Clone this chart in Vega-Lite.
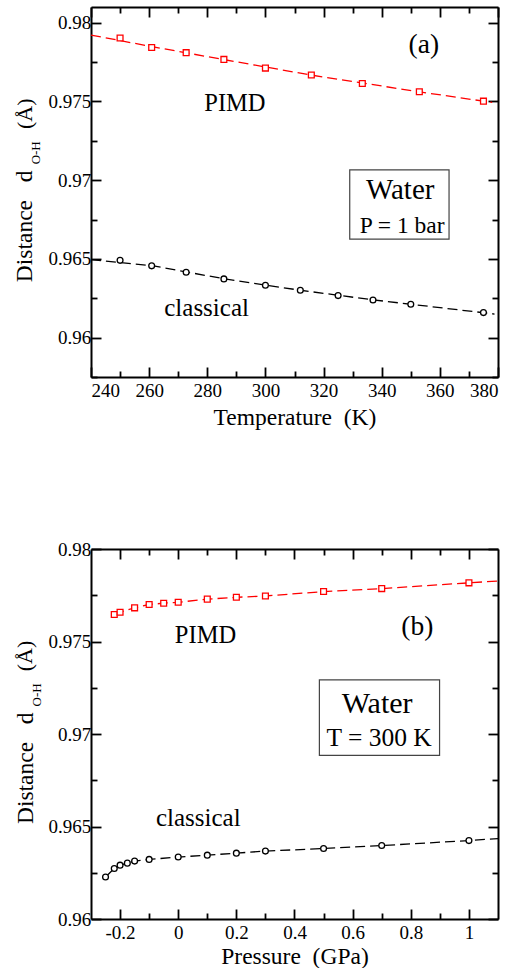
{
  "$schema": "https://vega.github.io/schema/vega-lite/v6.json",
  "padding": {"left": 12, "right": 2, "top": 6, "bottom": 0},
  "background": "white",
  "config": {
    "view": {"stroke": null},
    "font": "Liberation Serif, Times New Roman, serif",
    "axis": {
      "grid": false,
      "domainColor": "black",
      "domainWidth": 2,
      "tickColor": "black",
      "tickWidth": 1.8,
      "labelFont": "Liberation Serif, Times New Roman, serif",
      "labelFontSize": 19,
      "labelColor": "black",
      "titleFont": "Liberation Serif, Times New Roman, serif",
      "titleFontSize": 23.5,
      "titleFontWeight": "normal",
      "titleColor": "black"
    },
    "text": {"font": "Liberation Serif, Times New Roman, serif", "color": "black"}
  },
  "datasets": {
    "temp_points": [
      {"series": "PIMD", "T": 250, "d": 0.97903},
      {"series": "PIMD", "T": 260.87, "d": 0.97843},
      {"series": "PIMD", "T": 272.73, "d": 0.9781},
      {"series": "PIMD", "T": 285.71, "d": 0.97767},
      {"series": "PIMD", "T": 300, "d": 0.97712},
      {"series": "PIMD", "T": 315.79, "d": 0.97668},
      {"series": "PIMD", "T": 333.33, "d": 0.97614},
      {"series": "PIMD", "T": 352.94, "d": 0.97562},
      {"series": "PIMD", "T": 375, "d": 0.97502},
      {"series": "classical", "T": 250, "d": 0.96491},
      {"series": "classical", "T": 260.87, "d": 0.96456},
      {"series": "classical", "T": 272.73, "d": 0.96415},
      {"series": "classical", "T": 285.71, "d": 0.96373},
      {"series": "classical", "T": 300, "d": 0.96333},
      {"series": "classical", "T": 312, "d": 0.96301},
      {"series": "classical", "T": 325, "d": 0.96267},
      {"series": "classical", "T": 337, "d": 0.96239},
      {"series": "classical", "T": 350, "d": 0.96212},
      {"series": "classical", "T": 375, "d": 0.96159}
    ],
    "temp_fit": [
      {"series": "PIMD", "T": 240, "d": 0.97922},
      {"series": "PIMD", "T": 261, "d": 0.97848},
      {"series": "PIMD", "T": 286, "d": 0.97765},
      {"series": "PIMD", "T": 316, "d": 0.97667},
      {"series": "PIMD", "T": 353, "d": 0.97561},
      {"series": "PIMD", "T": 378, "d": 0.97494},
      {"series": "classical", "T": 240, "d": 0.96496},
      {"series": "classical", "T": 261, "d": 0.96457},
      {"series": "classical", "T": 286, "d": 0.96373},
      {"series": "classical", "T": 312, "d": 0.96301},
      {"series": "classical", "T": 337, "d": 0.9624},
      {"series": "classical", "T": 378.8, "d": 0.9615}
    ],
    "press_points": [
      {"series": "PIMD", "P": -0.22, "d": 0.97646},
      {"series": "PIMD", "P": -0.2, "d": 0.97658},
      {"series": "PIMD", "P": -0.15, "d": 0.97682},
      {"series": "PIMD", "P": -0.1, "d": 0.977},
      {"series": "PIMD", "P": -0.05, "d": 0.97707},
      {"series": "PIMD", "P": 0, "d": 0.97712},
      {"series": "PIMD", "P": 0.1, "d": 0.97729},
      {"series": "PIMD", "P": 0.2, "d": 0.97739},
      {"series": "PIMD", "P": 0.3, "d": 0.97746},
      {"series": "PIMD", "P": 0.5, "d": 0.9777},
      {"series": "PIMD", "P": 0.7, "d": 0.97786},
      {"series": "PIMD", "P": 1.0, "d": 0.97817},
      {"series": "classical", "P": -0.25, "d": 0.96227},
      {"series": "classical", "P": -0.22, "d": 0.96273},
      {"series": "classical", "P": -0.2, "d": 0.96291},
      {"series": "classical", "P": -0.175, "d": 0.96302},
      {"series": "classical", "P": -0.15, "d": 0.96313},
      {"series": "classical", "P": -0.1, "d": 0.96322},
      {"series": "classical", "P": 0, "d": 0.96335},
      {"series": "classical", "P": 0.1, "d": 0.96345},
      {"series": "classical", "P": 0.2, "d": 0.96356},
      {"series": "classical", "P": 0.3, "d": 0.96367},
      {"series": "classical", "P": 0.5, "d": 0.96381},
      {"series": "classical", "P": 0.7, "d": 0.96397},
      {"series": "classical", "P": 1.0, "d": 0.96424}
    ],
    "press_fit": [
      {"series": "PIMD", "P": -0.22, "d": 0.97646},
      {"series": "PIMD", "P": -0.2, "d": 0.97658},
      {"series": "PIMD", "P": -0.15, "d": 0.97682},
      {"series": "PIMD", "P": -0.1, "d": 0.977},
      {"series": "PIMD", "P": -0.05, "d": 0.97707},
      {"series": "PIMD", "P": 0, "d": 0.97712},
      {"series": "PIMD", "P": 0.1, "d": 0.97729},
      {"series": "PIMD", "P": 0.2, "d": 0.97739},
      {"series": "PIMD", "P": 0.3, "d": 0.97746},
      {"series": "PIMD", "P": 0.5, "d": 0.9777},
      {"series": "PIMD", "P": 0.7, "d": 0.97786},
      {"series": "PIMD", "P": 1.0, "d": 0.97817},
      {"series": "PIMD", "P": 1.1, "d": 0.97827},
      {"series": "classical", "P": -0.25, "d": 0.96227},
      {"series": "classical", "P": -0.22, "d": 0.96273},
      {"series": "classical", "P": -0.2, "d": 0.96291},
      {"series": "classical", "P": -0.175, "d": 0.96302},
      {"series": "classical", "P": -0.15, "d": 0.96313},
      {"series": "classical", "P": -0.1, "d": 0.96322},
      {"series": "classical", "P": 0, "d": 0.96335},
      {"series": "classical", "P": 0.1, "d": 0.96345},
      {"series": "classical", "P": 0.2, "d": 0.96356},
      {"series": "classical", "P": 0.3, "d": 0.96367},
      {"series": "classical", "P": 0.5, "d": 0.96381},
      {"series": "classical", "P": 0.7, "d": 0.96397},
      {"series": "classical", "P": 1.0, "d": 0.96424},
      {"series": "classical", "P": 1.1, "d": 0.96435}
    ]
  },
  "spacing": 111,
  "vconcat": [
    {
      "width": 407,
      "height": 370,
      "resolve": {"axis": {"x": "independent", "y": "independent"}},
      "layer": [
        {
          "data": {"name": "temp_fit"},
          "mark": {"type": "line", "strokeDash": [10, 5], "strokeWidth": 1.3},
          "encoding": {
            "x": {"field": "T", "type": "quantitative", "scale": {"domain": [240, 380], "nice": false, "zero": false},
                  "axis": {"orient": "bottom", "values": [240, 260, 280, 300, 320, 340, 360, 380], "format": "d", "tickSize": -10, "labelPadding": 14.5, "title": "Temperature\u00a0 (K)", "titlePadding": 5}},
            "y": {"field": "d", "type": "quantitative", "scale": {"domain": [0.9575, 0.981], "nice": false, "zero": false},
                  "axis": {"orient": "left", "values": [0.96, 0.965, 0.97, 0.975, 0.98], "format": "~g", "tickSize": -10, "labelPadding": 10.3, "title": null}},
            "color": {"field": "series", "type": "nominal", "scale": {"domain": ["PIMD", "classical"], "range": ["#ff0000", "#000000"]}, "legend": null}
          }
        },
        {
          "data": {"name": "temp_points"},
          "mark": {"type": "point", "fill": "white", "strokeWidth": 1.3, "size": 34, "opacity": 1},
          "encoding": {
            "x": {"field": "T", "type": "quantitative", "scale": {"domain": [240, 380], "nice": false, "zero": false},
                  "axis": {"orient": "top", "values": [240, 260, 280, 300, 320, 340, 360, 380], "tickSize": -10, "labels": false, "title": null}},
            "y": {"field": "d", "type": "quantitative", "scale": {"domain": [0.9575, 0.981], "nice": false, "zero": false},
                  "axis": {"orient": "right", "values": [0.96, 0.965, 0.97, 0.975, 0.98], "tickSize": -10, "labels": false, "title": null}},
            "stroke": {"field": "series", "type": "nominal", "scale": {"domain": ["PIMD", "classical"], "range": ["#ff0000", "#000000"]}, "legend": null},
            "shape": {"field": "series", "type": "nominal", "scale": {"domain": ["PIMD", "classical"], "range": ["square", "circle"]}, "legend": null}
          }
        },
        {
          "data": {"values": [{"box": "Water"}]},
          "mark": {"type": "rect", "fill": "white", "stroke": "#444444", "strokeWidth": 1.2},
          "encoding": {
            "x": {"datum": 329.0, "type": "quantitative", "scale": {"domain": [240, 380], "nice": false, "zero": false},
                  "axis": {"orient": "bottom", "values": [250, 270, 290, 310, 330, 350, 370], "tickSize": -6, "labels": false, "domain": false, "title": null}},
            "x2": {"datum": 363.16},
            "y": {"datum": 0.970657, "type": "quantitative", "scale": {"domain": [0.9575, 0.981], "nice": false, "zero": false},
                  "axis": {"orient": "left", "values": [0.9575, 0.9625, 0.9675, 0.9725, 0.9775], "tickSize": -6, "labels": false, "domain": false, "title": null}},
            "y2": {"datum": 0.966252}
          }
        },
        {
          "data": {"values": [{"label": "Water"}]},
          "mark": {"type": "text", "fontSize": 29, "align": "center", "baseline": "alphabetic"},
          "encoding": {
            "x": {"datum": 346.36, "type": "quantitative", "scale": {"domain": [240, 380], "nice": false, "zero": false},
                  "axis": {"orient": "top", "values": [250, 270, 290, 310, 330, 350, 370], "tickSize": -6, "labels": false, "domain": false, "title": null}},
            "y": {"datum": 0.968794, "type": "quantitative", "scale": {"domain": [0.9575, 0.981], "nice": false, "zero": false},
                  "axis": {"orient": "right", "values": [0.9575, 0.9625, 0.9675, 0.9725, 0.9775], "tickSize": -6, "labels": false, "domain": false, "title": null}},
            "text": {"field": "label"}
          }
        },
        {
          "data": {"values": [{"label": "P = 1 bar"}]},
          "mark": {"type": "text", "fontSize": 23.5, "align": "center", "baseline": "alphabetic"},
          "encoding": {
            "x": {"datum": 347.04, "type": "quantitative", "scale": {"domain": [240, 380], "nice": false, "zero": false}, "axis": null},
            "y": {"datum": 0.966633, "type": "quantitative", "scale": {"domain": [0.9575, 0.981], "nice": false, "zero": false}, "axis": null},
            "text": {"field": "label"}
          }
        },
        {
          "data": {"values": [{"label": "PIMD"}]},
          "mark": {"type": "text", "fontSize": 24.5, "align": "center", "baseline": "alphabetic"},
          "encoding": {
            "x": {"datum": 289.5, "type": "quantitative", "scale": {"domain": [240, 380], "nice": false, "zero": false}, "axis": null},
            "y": {"datum": 0.974408, "type": "quantitative", "scale": {"domain": [0.9575, 0.981], "nice": false, "zero": false}, "axis": null},
            "text": {"field": "label"}
          }
        },
        {
          "data": {"values": [{"label": "classical"}]},
          "mark": {"type": "text", "fontSize": 25, "align": "center", "baseline": "alphabetic"},
          "encoding": {
            "x": {"datum": 279.76, "type": "quantitative", "scale": {"domain": [240, 380], "nice": false, "zero": false}, "axis": null},
            "y": {"datum": 0.961376, "type": "quantitative", "scale": {"domain": [0.9575, 0.981], "nice": false, "zero": false}, "axis": null},
            "text": {"field": "label"}
          }
        },
        {
          "data": {"values": [{"label": "(a)"}]},
          "mark": {"type": "text", "fontSize": 27.5, "align": "center", "baseline": "alphabetic"},
          "encoding": {
            "x": {"datum": 354.5, "type": "quantitative", "scale": {"domain": [240, 380], "nice": false, "zero": false}, "axis": null},
            "y": {"datum": 0.978076, "type": "quantitative", "scale": {"domain": [0.9575, 0.981], "nice": false, "zero": false}, "axis": null},
            "text": {"field": "label"}
          }
        },
        {
          "data": {"values": [{"label": "Distance\u00a0\u00a0 d"}]},
          "mark": {"type": "text", "fontSize": 23.5, "align": "center", "baseline": "alphabetic", "angle": 270},
          "encoding": {
            "x": {"datum": 219.62, "type": "quantitative", "scale": {"domain": [240, 380], "nice": false, "zero": false}, "axis": null},
            "y": {"datum": 0.967065, "type": "quantitative", "scale": {"domain": [0.9575, 0.981], "nice": false, "zero": false}, "axis": null},
            "text": {"field": "label"}
          }
        },
        {
          "data": {"values": [{"label": "O-H"}]},
          "mark": {"type": "text", "fontSize": 13, "align": "center", "baseline": "alphabetic", "angle": 270},
          "encoding": {
            "x": {"datum": 222.37, "type": "quantitative", "scale": {"domain": [240, 380], "nice": false, "zero": false}, "axis": null},
            "y": {"datum": 0.971738, "type": "quantitative", "scale": {"domain": [0.9575, 0.981], "nice": false, "zero": false}, "axis": null},
            "text": {"field": "label"}
          }
        },
        {
          "data": {"values": [{"label": "(Å)"}]},
          "mark": {"type": "text", "fontSize": 22, "align": "center", "baseline": "alphabetic", "angle": 270},
          "encoding": {
            "x": {"datum": 219.62, "type": "quantitative", "scale": {"domain": [240, 380], "nice": false, "zero": false}, "axis": null},
            "y": {"datum": 0.974217, "type": "quantitative", "scale": {"domain": [0.9575, 0.981], "nice": false, "zero": false}, "axis": null},
            "text": {"field": "label"}
          }
        }
      ]
    },
    {
      "width": 407,
      "height": 370,
      "resolve": {"axis": {"x": "independent", "y": "independent"}},
      "layer": [
        {
          "data": {"name": "press_fit"},
          "mark": {"type": "line", "strokeDash": [10, 5], "strokeWidth": 1.3},
          "encoding": {
            "x": {"field": "P", "type": "quantitative", "scale": {"domain": [-0.3, 1.1], "nice": false, "zero": false},
                  "axis": {"orient": "bottom", "values": [-0.2, 0, 0.2, 0.4, 0.6, 0.8, 1.0], "labelExpr": "toString(round(datum.value*10)/10)", "tickSize": -10, "labelPadding": 14.5, "title": "Pressure\u00a0 (GPa)", "titlePadding": 2}},
            "y": {"field": "d", "type": "quantitative", "scale": {"domain": [0.96, 0.98], "nice": false, "zero": false},
                  "axis": {"orient": "left", "values": [0.96, 0.965, 0.97, 0.975, 0.98], "format": "~g", "tickSize": -10, "labelPadding": 10.3, "title": null}},
            "color": {"field": "series", "type": "nominal", "scale": {"domain": ["PIMD", "classical"], "range": ["#ff0000", "#000000"]}, "legend": null}
          }
        },
        {
          "data": {"name": "press_points"},
          "mark": {"type": "point", "fill": "white", "strokeWidth": 1.3, "size": 34, "opacity": 1},
          "encoding": {
            "x": {"field": "P", "type": "quantitative", "scale": {"domain": [-0.3, 1.1], "nice": false, "zero": false},
                  "axis": {"orient": "top", "values": [-0.2, 0, 0.2, 0.4, 0.6, 0.8, 1.0], "tickSize": -10, "labels": false, "title": null}},
            "y": {"field": "d", "type": "quantitative", "scale": {"domain": [0.96, 0.98], "nice": false, "zero": false},
                  "axis": {"orient": "right", "values": [0.96, 0.965, 0.97, 0.975, 0.98], "tickSize": -10, "labels": false, "title": null}},
            "stroke": {"field": "series", "type": "nominal", "scale": {"domain": ["PIMD", "classical"], "range": ["#ff0000", "#000000"]}, "legend": null},
            "shape": {"field": "series", "type": "nominal", "scale": {"domain": ["PIMD", "classical"], "range": ["square", "circle"]}, "legend": null}
          }
        },
        {
          "data": {"values": [{"box": "Water"}]},
          "mark": {"type": "rect", "fill": "white", "stroke": "#444444", "strokeWidth": 1.2},
          "encoding": {
            "x": {"datum": 0.4856, "type": "quantitative", "scale": {"domain": [-0.3, 1.1], "nice": false, "zero": false},
                  "axis": {"orient": "bottom", "values": [-0.1, 0.1, 0.3, 0.5, 0.7, 0.9], "tickSize": -6, "labels": false, "domain": false, "title": null}},
            "x2": {"datum": 0.899},
            "y": {"datum": 0.97293, "type": "quantitative", "scale": {"domain": [0.96, 0.98], "nice": false, "zero": false},
                  "axis": {"orient": "left", "values": [0.9625, 0.9675, 0.9725, 0.9775], "tickSize": -6, "labels": false, "domain": false, "title": null}},
            "y2": {"datum": 0.96885}
          }
        },
        {
          "data": {"values": [{"label": "Water"}]},
          "mark": {"type": "text", "fontSize": 30, "align": "center", "baseline": "alphabetic"},
          "encoding": {
            "x": {"datum": 0.6842, "type": "quantitative", "scale": {"domain": [-0.3, 1.1], "nice": false, "zero": false},
                  "axis": {"orient": "top", "values": [-0.1, 0.1, 0.3, 0.5, 0.7, 0.9], "tickSize": -6, "labels": false, "domain": false, "title": null}},
            "y": {"datum": 0.971149, "type": "quantitative", "scale": {"domain": [0.96, 0.98], "nice": false, "zero": false},
                  "axis": {"orient": "right", "values": [0.9625, 0.9675, 0.9725, 0.9775], "tickSize": -6, "labels": false, "domain": false, "title": null}},
            "text": {"field": "label"}
          }
        },
        {
          "data": {"values": [{"label": "T = 300 K"}]},
          "mark": {"type": "text", "fontSize": 25.5, "align": "center", "baseline": "alphabetic"},
          "encoding": {
            "x": {"datum": 0.691, "type": "quantitative", "scale": {"domain": [-0.3, 1.1], "nice": false, "zero": false}, "axis": null},
            "y": {"datum": 0.969352, "type": "quantitative", "scale": {"domain": [0.96, 0.98], "nice": false, "zero": false}, "axis": null},
            "text": {"field": "label"}
          }
        },
        {
          "data": {"values": [{"label": "PIMD"}]},
          "mark": {"type": "text", "fontSize": 24.5, "align": "center", "baseline": "alphabetic"},
          "encoding": {
            "x": {"datum": 0.0938, "type": "quantitative", "scale": {"domain": [-0.3, 1.1], "nice": false, "zero": false}, "axis": null},
            "y": {"datum": 0.974927, "type": "quantitative", "scale": {"domain": [0.96, 0.98], "nice": false, "zero": false}, "axis": null},
            "text": {"field": "label"}
          }
        },
        {
          "data": {"values": [{"label": "classical"}]},
          "mark": {"type": "text", "fontSize": 25, "align": "center", "baseline": "alphabetic"},
          "encoding": {
            "x": {"datum": 0.069, "type": "quantitative", "scale": {"domain": [-0.3, 1.1], "nice": false, "zero": false}, "axis": null},
            "y": {"datum": 0.965034, "type": "quantitative", "scale": {"domain": [0.96, 0.98], "nice": false, "zero": false}, "axis": null},
            "text": {"field": "label"}
          }
        },
        {
          "data": {"values": [{"label": "(b)"}]},
          "mark": {"type": "text", "fontSize": 27.5, "align": "center", "baseline": "alphabetic"},
          "encoding": {
            "x": {"datum": 0.8223, "type": "quantitative", "scale": {"domain": [-0.3, 1.1], "nice": false, "zero": false}, "axis": null},
            "y": {"datum": 0.975326, "type": "quantitative", "scale": {"domain": [0.96, 0.98], "nice": false, "zero": false}, "axis": null},
            "text": {"field": "label"}
          }
        },
        {
          "data": {"values": [{"label": "Distance\u00a0\u00a0 d"}]},
          "mark": {"type": "text", "fontSize": 23.5, "align": "center", "baseline": "alphabetic", "angle": 270},
          "encoding": {
            "x": {"datum": -0.5003, "type": "quantitative", "scale": {"domain": [-0.3, 1.1], "nice": false, "zero": false}, "axis": null},
            "y": {"datum": 0.968146, "type": "quantitative", "scale": {"domain": [0.96, 0.98], "nice": false, "zero": false}, "axis": null},
            "text": {"field": "label"}
          }
        },
        {
          "data": {"values": [{"label": "O-H"}]},
          "mark": {"type": "text", "fontSize": 13, "align": "center", "baseline": "alphabetic", "angle": 270},
          "encoding": {
            "x": {"datum": -0.4729, "type": "quantitative", "scale": {"domain": [-0.3, 1.1], "nice": false, "zero": false}, "axis": null},
            "y": {"datum": 0.972113, "type": "quantitative", "scale": {"domain": [0.96, 0.98], "nice": false, "zero": false}, "axis": null},
            "text": {"field": "label"}
          }
        },
        {
          "data": {"values": [{"label": "(Å)"}]},
          "mark": {"type": "text", "fontSize": 22, "align": "center", "baseline": "alphabetic", "angle": 270},
          "encoding": {
            "x": {"datum": -0.503, "type": "quantitative", "scale": {"domain": [-0.3, 1.1], "nice": false, "zero": false}, "axis": null},
            "y": {"datum": 0.974218, "type": "quantitative", "scale": {"domain": [0.96, 0.98], "nice": false, "zero": false}, "axis": null},
            "text": {"field": "label"}
          }
        }
      ]
    }
  ]
}
